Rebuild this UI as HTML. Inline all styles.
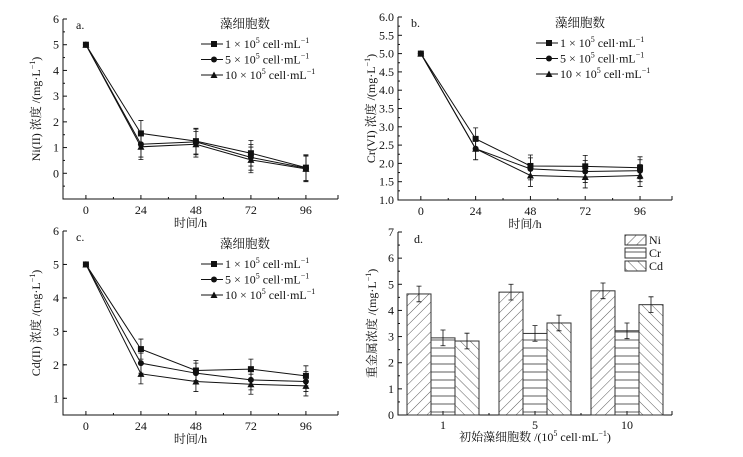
<!DOCTYPE html>
<html><head><meta charset="utf-8"><style>
html,body{margin:0;padding:0;background:#fff}
svg{display:block;font-family:"Liberation Serif","Noto Serif CJK SC",serif}
</style></head><body>
<svg id="fig" width="743" height="457" viewBox="0 0 743 457" xmlns="http://www.w3.org/2000/svg">
<defs>
<pattern id="hNi" patternUnits="userSpaceOnUse" width="7" height="7" patternTransform="rotate(45)"><line x1="0" y1="0" x2="0" y2="7" stroke="#333" stroke-width="0.8"/></pattern>
<pattern id="hCr" patternUnits="userSpaceOnUse" width="8" height="8"><line x1="0" y1="4" x2="8" y2="4" stroke="#333" stroke-width="0.8"/></pattern>
<pattern id="hCd" patternUnits="userSpaceOnUse" width="7" height="7" patternTransform="rotate(-45)"><line x1="0" y1="0" x2="0" y2="7" stroke="#333" stroke-width="0.8"/></pattern>
</defs>
</svg>
<script>
const hours=[0,24,48,72,96];
const seriesNames=["1 × 10","5 × 10","10 × 10"];
const niS1=[5,1.55,1.25,0.78,0.22], niS2=[5,1.13,1.22,0.62,0.2], niS3=[5,1.03,1.13,0.52,0.17];
const niErr=[0.05,0.5,0.5,0.5,0.5];
const crS1=[5,2.67,1.93,1.92,1.88], crS2=[5,2.4,1.85,1.78,1.8], crS3=[5,2.4,1.67,1.63,1.67];
const crErr=[0.05,0.3,0.3,0.3,0.3];
const cdS1=[5,2.47,1.83,1.87,1.67], cdS2=[5,2.05,1.75,1.55,1.5], cdS3=[5,1.73,1.5,1.42,1.37];
const cdErr=[0.05,0.3,0.3,0.3,0.3];
const aYTicks=["0","1","2","3","4","5","6"];
const bYTicks=["1.0","1.5","2.0","2.5","3.0","3.5","4.0","4.5","5.0","5.5","6.0"];
const cYTicks=["1","2","3","4","5","6"];
const dGroups=["1","5","10"];
const dMetals=["Ni","Cr","Cd"];
const dNi=[4.63,4.7,4.75], dCr=[2.95,3.12,3.22], dCd=[2.83,3.52,4.22];
const dErr=[0.3,0.3,0.3];
const dYTicks=["0","1","2","3","4","5","6","7"];

const svg=document.getElementById('fig');
const NS="http://www.w3.org/2000/svg";
function mk(tag,attrs,parent){const e=document.createElementNS(NS,tag);for(const k in attrs)e.setAttribute(k,attrs[k]);(parent||svg).appendChild(e);return e;}
function txt(x,y,s,size,anchor,parent){const t=mk('text',{x:x,y:y,'font-size':size,'text-anchor':anchor||'middle',fill:'#111'},parent);t.innerHTML=s;return t;}

function linePanel(cfg){
  const g=mk('g',{});
  
  
  const X=v=>cfg.x0+(v-(-10))/(120)*(cfg.x1-cfg.x0);
  const Y=v=>cfg.yb+(v-cfg.ymin)/(cfg.ymax-cfg.ymin)*(cfg.yt-cfg.yb);
  const ax=mk('path',{d:`M${cfg.x0},${cfg.yt} V${cfg.yb} H${cfg.x1}`,stroke:'#111',fill:'none','stroke-width':1},g);
  
  
  mk('line',{x1:cfg.x1,y1:cfg.yb,x2:cfg.x1,y2:cfg.yb-4,stroke:'#111'},g);
  mk('line',{x1:cfg.x0,y1:cfg.yt,x2:cfg.x0+4,y2:cfg.yt,stroke:'#111'},g);
  cfg.yTicks.forEach(s=>{const v=parseFloat(s),y=Y(v);
    mk('line',{x1:cfg.x0,y1:y,x2:cfg.x0+4,y2:y,stroke:'#111'},g);
    const t=txt(cfg.x0-4,y+4,s,12,'end',g);
    
    
  });
  for(let v=cfg.ymin+cfg.minor;v<cfg.ymax;v+=cfg.minor*2){const y=Y(v);mk('line',{x1:cfg.x0,y1:y,x2:cfg.x0+2,y2:y,stroke:'#111'},g);}
  hours.forEach(h=>{const x=X(h);mk('line',{x1:x,y1:cfg.yb,x2:x,y2:cfg.yb-4,stroke:'#111'},g);
    const t=txt(x,cfg.yb+15,String(h),12,'middle',g);
    
    
    if(h<96){const m=X(h+12);mk('line',{x1:m,y1:cfg.yb,x2:m,y2:cfg.yb-2,stroke:'#111'},g);}
  });
  const xl=txt((cfg.x0+cfg.x1)/2-10,cfg.yb+28,'时间/h',12,'middle',g);
  
  
  const yl=mk('text',{transform:`translate(${cfg.x0-23},${(cfg.yt+cfg.yb)/2}) rotate(-90)`,'font-size':12,'text-anchor':'middle',fill:'#111'},g);
  yl.innerHTML=cfg.ylabel;
  
  
  const pl=txt(cfg.x0+13,cfg.yt+10,cfg.letter,12,'start',g);
  
  
  const markers=['sq','ci','tr'];
  cfg.series.forEach((s,i)=>{
    const pts=hours.map((h,j)=>X(h)+','+Y(s[j])).join(' ');
    const pl=mk('polyline',{points:pts,fill:'none',stroke:'#111','stroke-width':1},g);
    
    
    hours.forEach((h,j)=>{const x=X(h),y=Y(s[j]),e=cfg.err[j];
      if(j>0){mk('path',{d:`M${x},${Y(s[j]+e)}V${Y(s[j]-e)}M${x-2.5},${Y(s[j]+e)}h5M${x-2.5},${Y(s[j]-e)}h5`,stroke:'#111','stroke-width':0.8,fill:'none'},g);}
      drawMarker(markers[i],x,y,g);
    });
  });
  const lg=mk('g',{},g);
  
  
  txt(cfg.lx+44,cfg.ly,'藻细胞数',12.5,'middle',lg);
  seriesNames.forEach((n,i)=>{const y=cfg.ly+16+i*15.5;
    const le=mk('g',{},lg);
    
    
    mk('line',{x1:cfg.lx,y1:y,x2:cfg.lx+22,y2:y,stroke:'#111'},le);
    drawMarker(markers[i],cfg.lx+13,y,le);
    txt(cfg.lx+24,y+4,n+'<tspan font-size="8" dy="-5">5</tspan><tspan dy="5"> cell·mL</tspan><tspan font-size="8" dy="-5">−1</tspan>',12,'start',le);
  });
}
function drawMarker(k,x,y,p){
  if(k==='sq')mk('rect',{x:x-3,y:y-3,width:6,height:6,fill:'#111'},p);
  else if(k==='ci')mk('circle',{cx:x,cy:y,r:3,fill:'#111'},p);
  else mk('polygon',{points:`${x},${y-3.5} ${x+3.5},${y+3} ${x-3.5},${y+3}`,fill:'#111'},p);
}
linePanel({name:'panel-a-ni',letter:'a.',x0:63,x1:338,yt:19,yb:199,ymin:-1,ymax:6,minor:0.5,yTicks:aYTicks,series:[niS1,niS2,niS3],err:niErr,ylabel:'Ni(II) 浓度 /(mg·L<tspan font-size="8" dy="-5">−1</tspan><tspan dy="5">)</tspan>',lx:201,ly:28});
linePanel({name:'panel-b-cr',letter:'b.',x0:398,x1:672,yt:17,yb:200,ymin:1,ymax:6,minor:0.25,yTicks:bYTicks,series:[crS1,crS2,crS3],err:crErr,ylabel:'Cr(VI) 浓度 /(mg·L<tspan font-size="8" dy="-5">−1</tspan><tspan dy="5">)</tspan>',lx:536,ly:27});
linePanel({name:'panel-c-cd',letter:'c.',x0:63,x1:338,yt:231,yb:415,ymin:0.5,ymax:6,minor:0.5,yTicks:cYTicks,series:[cdS1,cdS2,cdS3],err:cdErr,ylabel:'Cd(II) 浓度 /(mg·L<tspan font-size="8" dy="-5">−1</tspan><tspan dy="5">)</tspan>',lx:201,ly:248});

// panel d
(function(){
  const g=mk('g',{});
  
  
  const x0=398,x1=672,yt=232,yb=415;
  const Y=v=>yb-v/7*(yb-yt);
  const gx=i=>443+i*92;
  mk('path',{d:`M${x0},${yt} V${yb} H${x1}`,stroke:'#111',fill:'none'},g);
  mk('line',{x1:x0,y1:yt,x2:x0+4,y2:yt,stroke:'#111'},g);
  mk('line',{x1:x1,y1:yb,x2:x1,y2:yb-4,stroke:'#111'},g);
  dYTicks.forEach(s=>{const y=Y(+s);mk('line',{x1:x0,y1:y,x2:x0+4,y2:y,stroke:'#111'},g);
    const t=txt(x0-4,y+4,s,12,'end',g);
    
    
    if(+s<7){const m=Y(+s+0.5);mk('line',{x1:x0,y1:m,x2:x0+2,y2:m,stroke:'#111'},g);}
  });
  const vals=[dNi,dCr,dCd],fills=['url(#hNi)','url(#hCr)','url(#hCd)'];
  dGroups.forEach((lab,i)=>{const cx=gx(i);
    mk('line',{x1:cx,y1:yb,x2:cx,y2:yb-4,stroke:'#111'},g);
    if(i<2)mk('line',{x1:cx+46,y1:yb,x2:cx+46,y2:yb-2,stroke:'#111'},g);
    const t=txt(cx,yb+14,lab,12,'middle',g);
    
    
    vals.forEach((arr,k)=>{const bx=cx-36+k*24,v=arr[i];
      const r=mk('rect',{x:bx,y:Y(v),width:24,height:yb-Y(v),fill:fills[k],stroke:'#333','stroke-width':1},g);
      
      
      const e=dErr[k],mx=bx+12;
      mk('path',{d:`M${mx},${Y(v+e)}V${Y(v-e)}M${mx-2.5},${Y(v+e)}h5M${mx-2.5},${Y(v-e)}h5`,stroke:'#111','stroke-width':0.8,fill:'none'},g);
    });
  });
  const xl=txt(535,441,'初始藻细胞数 /(10<tspan font-size="8" dy="-5">5</tspan><tspan dy="5"> cell·mL</tspan><tspan font-size="8" dy="-5">−1</tspan><tspan dy="5">)</tspan>',12,'middle',g);
  
  
  const yl=mk('text',{transform:`translate(376,${(yt+yb)/2}) rotate(-90)`,'font-size':12,'text-anchor':'middle',fill:'#111'},g);
  yl.innerHTML='重金属浓度 /(mg·L<tspan font-size="8" dy="-5">−1</tspan><tspan dy="5">)</tspan>';
  
  
  const pl=txt(x0+16,yt+11,'d.',12,'start',g);
  
  
  dMetals.forEach((m,k)=>{const y=235+k*13;
    const le=mk('g',{},g);
    
    
    mk('rect',{x:625,y:y,width:21,height:10,fill:fills[k],stroke:'#333'},le);
    txt(649,y+9,m,12,'start',le);
  });
})();
</script>
</body></html>
